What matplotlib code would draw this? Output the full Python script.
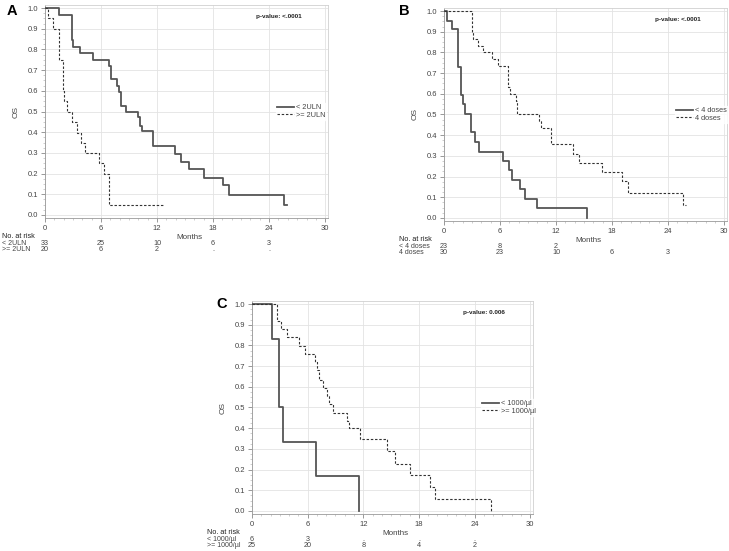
import numpy as np
import matplotlib
matplotlib.use("Agg")
import matplotlib.pyplot as plt
from matplotlib.ticker import MultipleLocator
from matplotlib.transforms import blended_transform_factory

plt.rcParams['font.family'] = ['Liberation Sans', 'DejaVu Sans']

# ---- data ----
a_lo_t = [0, 1.54, 2.93, 3.04, 3.75, 5.1, 6.89, 7.07, 7.68, 7.93, 8.14, 8.68, 10.0, 10.18, 10.4,
          11.6, 13.9, 14.6, 15.4, 17.0, 19.1, 19.7, 25.6, 25.96]
a_lo_s = [1.0, 0.968, 0.847, 0.81, 0.782, 0.747, 0.718, 0.656, 0.621, 0.594, 0.529, 0.497, 0.471,
          0.432, 0.406, 0.334, 0.295, 0.255, 0.22, 0.18, 0.145, 0.097, 0.048, 0.048]
a_hi_t = [0, 0.36, 0.9, 1.54, 1.9, 2.07, 2.32, 2.93, 3.4, 3.82, 4.29, 5.79, 6.36, 6.86, 12.6]
a_hi_s = [1.0, 0.95, 0.898, 0.747, 0.6, 0.55, 0.497, 0.447, 0.398, 0.347, 0.298, 0.25, 0.198,
          0.048, 0.048]

b_lo_t = [0, 0.36, 0.89, 1.46, 1.82, 2.0, 2.25, 2.86, 3.36, 3.79, 6.36, 6.96, 7.25, 8.14, 8.71,
          10.0, 15.27]
b_lo_s = [1.0, 0.953, 0.912, 0.728, 0.592, 0.55, 0.502, 0.413, 0.367, 0.318, 0.273, 0.23, 0.185,
          0.14, 0.093, 0.048, 0.0]
b_hi_t = [0, 2.96, 3.14, 3.68, 4.2, 5.1, 5.82, 6.82, 7.07, 7.7, 7.86, 10.18, 10.4, 11.5, 13.86,
          14.5, 16.96, 19.1, 19.7, 25.6, 25.9]
b_hi_s = [1.0, 0.9, 0.867, 0.833, 0.8, 0.767, 0.733, 0.633, 0.6, 0.567, 0.5, 0.467, 0.433, 0.357,
          0.311, 0.265, 0.22, 0.177, 0.12, 0.064, 0.064]

c_lo_t = [0, 2.19, 2.95, 3.38, 6.86, 11.57]
c_lo_s = [1.0, 0.833, 0.5, 0.333, 0.167, 0.0]
c_hi_t = [0, 2.73, 3.09, 3.74, 5.1, 5.71, 6.8, 7.0, 7.26, 7.69, 8.05, 8.33, 8.69, 10.2, 10.49,
          11.64, 14.55, 15.38, 17.07, 19.15, 19.76, 25.76]
c_hi_s = [1.0, 0.92, 0.879, 0.839, 0.797, 0.757, 0.72, 0.68, 0.634, 0.596, 0.556, 0.515, 0.475,
          0.435, 0.399, 0.346, 0.289, 0.229, 0.173, 0.116, 0.057, 0.0]

risk_times = [0, 6, 12, 18, 24]
a_risk_lo = ["33", "25", "10", "6", "3"]
a_risk_hi = ["20", "6", "2", ".", "."]
b_risk_lo = ["23", "8", "2", "", ""]
b_risk_hi = ["30", "23", "10", "6", "3"]
c_risk_lo = ["6", "3", ".", ".", "."]
c_risk_hi = ["25", "20", "8", "4", "2"]

PANELS = [
    dict(letter="A", rect=[45, 5, 283, 213], letter_xy=(7, 15), pval="p-value: <.0001",
         labels=["< 2ULN", ">= 2ULN"], curves=[(a_lo_t, a_lo_s), (a_hi_t, a_hi_s)],
         risk=[a_risk_lo, a_risk_hi], risk_x=-4.6),
    dict(letter="B", rect=[444, 8, 283, 213], letter_xy=(399, 15), pval="p-value: <.0001",
         labels=["< 4 doses", "4 doses"], curves=[(b_lo_t, b_lo_s), (b_hi_t, b_hi_s)],
         risk=[b_risk_lo, b_risk_hi], risk_x=-4.8),
    dict(letter="C", rect=[252, 301, 281, 213], letter_xy=(216, 308), pval="p-value: 0.006",
         labels=["< 1000/µl", ">= 1000/µl"], curves=[(c_lo_t, c_lo_s), (c_hi_t, c_hi_s)],
         risk=[c_risk_lo, c_risk_hi], risk_x=-4.85),
]

W, H = 729, 551
fig = plt.figure(figsize=(W / 100, H / 100), dpi=100)
fig.patch.set_facecolor('white')

tick_col = '#444444'
grid_col = '#e3e3e3'

for p in PANELS:
    x, y, w, h = p["rect"]
    ax = fig.add_axes([x / W, 1 - (y + h) / H, w / W, h / H])
    ax.set_xlim(0, 30.3)
    ax.set_ylim(-0.015, 1.015)

    (t1, s1), (t2, s2) = p["curves"]
    ax.step(t1, s1, where='post', color='#555555', lw=1.3, label=p["labels"][0], zorder=3)
    ax.step(t2, s2, where='post', color='#333333', lw=0.8, dashes=(2.2, 1.6),
            label=p["labels"][1], zorder=3)

    ax.set_xticks(np.arange(0, 31, 6))
    ax.set_yticks(np.arange(0, 1.01, 0.1))
    ax.set_yticklabels([f"{v:.1f}" for v in np.arange(0, 1.01, 0.1)])
    ax.xaxis.set_minor_locator(MultipleLocator(1))
    ax.yaxis.set_minor_locator(MultipleLocator(0.025))
    ax.tick_params(which='major', labelsize=5.5, colors='#888888', labelcolor=tick_col,
                   length=3, width=0.6, pad=2)
    ax.tick_params(which='minor', colors='#aaaaaa', length=1.5, width=0.4)
    ax.grid(True, which='major', color=grid_col, lw=0.6, zorder=0)
    for sp in ax.spines.values():
        sp.set_color('#d0d0d0')
        sp.set_linewidth(0.6)
    ax.spines['left'].set_color('#999999')
    ax.spines['bottom'].set_color('#999999')

    ax.set_ylabel("OS", fontsize=6, color=tick_col, labelpad=6)
    tr = blended_transform_factory(ax.transData, ax.transAxes)
    ax.text(15.5, -0.092, "Months", transform=tr, ha='center', va='center', fontsize=5.8,
            color=tick_col)

    ax.text(25, 0.96, p["pval"], ha='center', va='center', fontsize=4.6, fontweight='bold',
            color='#222222')

    leg = ax.legend(loc='center left', bbox_to_anchor=(0.815, 0.5), frameon=True, fontsize=5.3,
                    handlelength=2.3, handletextpad=0.2, borderpad=0.2, borderaxespad=0,
                    labelspacing=0.05)
    leg.get_frame().set_facecolor('white')
    leg.get_frame().set_edgecolor('white')
    for txt in leg.get_texts():
        txt.set_color(tick_col)

    ax.text(p["risk_x"], -0.089, "No. at risk", transform=tr, ha='left', va='center',
            fontsize=5.2, color='#222222', clip_on=False)
    for row, (lab, vals) in enumerate(zip(p["labels"], p["risk"])):
        yy = -0.118 - 0.029 * row
        ax.text(p["risk_x"], yy, lab, transform=tr, ha='left', va='center', fontsize=5,
                color=tick_col, clip_on=False)
        for tt, v in zip(risk_times, vals):
            ax.text(tt, yy, v, transform=tr, ha='center', va='center', fontsize=5.2,
                    color=tick_col, clip_on=False)

    lx, ly = p["letter_xy"]
    fig.text(lx / W, 1 - ly / H, p["letter"], fontsize=10.5, fontweight='bold', ha='left',
             va='baseline', color='black')

fig.savefig("out.png", dpi=100, facecolor='white')
